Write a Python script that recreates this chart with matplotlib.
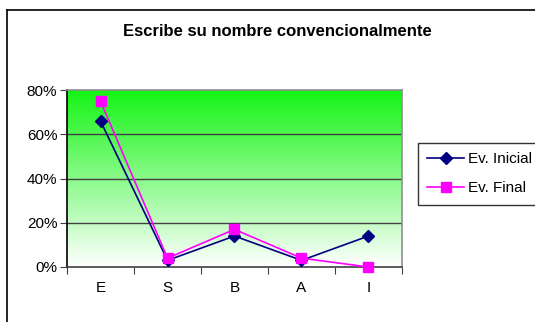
import matplotlib.pyplot as plt
import numpy as np
from matplotlib.lines import Line2D

plt.rcParams['font.family'] = ['Liberation Sans', 'DejaVu Sans']

categories = ['E', 'S', 'B', 'A', 'I']
inicial = [66, 3, 14, 3, 14]
final = [75, 4, 17, 4, 0]
y_ticks = [0, 20, 40, 60, 80]
y_labels = ['0%', '20%', '40%', '60%', '80%']

fig = plt.figure(figsize=(5.35, 3.22), dpi=100)
fig.patch.set_facecolor('white')

# chart border (cut off at right and bottom)
fig.add_artist(Line2D([7 / 535, 1.0], [1 - 10 / 322, 1 - 10 / 322], color='black', lw=1.2))
fig.add_artist(Line2D([7 / 535, 7 / 535], [0.0, 1 - 10 / 322], color='black', lw=1.2))

ax = fig.add_axes([67 / 535, 1 - 267 / 322, 335 / 535, 177 / 322])
x = np.arange(len(categories))
ax.set_xlim(-0.5, len(categories) - 0.5)
ax.set_ylim(0, 80)

# green to white gradient background
grad = np.linspace(1, 0, 256).reshape(-1, 1)
top = np.array([0.08, 0.96, 0.08])
img = np.ones((256, 1, 3)) * (1 - grad[..., None]) + top * grad[..., None]
ax.imshow(img, extent=[-0.5, len(categories) - 0.5, 0, 80], aspect='auto', zorder=0)

for yv in y_ticks[1:-1]:
    ax.axhline(yv, color='#404040', lw=1, zorder=1)

ax.plot(x, inicial, color='#000080', marker='D', markersize=6, lw=1.2,
        label='Ev. Inicial', zorder=3, clip_on=False)
ax.plot(x, final, color='#FF00FF', marker='s', markersize=7, lw=1.2,
        label='Ev. Final', zorder=4, clip_on=False)

ax.set_yticks(y_ticks)
ax.set_yticklabels(y_labels, fontsize=11)
ax.set_xticks(np.arange(-0.5, len(categories)), labels=[''] * (len(categories) + 1))
ax.set_xticks(x, minor=True)
ax.set_xticklabels(categories, minor=True, fontsize=11)
ax.tick_params(axis='x', which='major', length=5, color='#404040')
ax.tick_params(axis='x', which='minor', length=0, pad=10)
ax.tick_params(axis='y', length=5, color='#404040', pad=2)

ax.spines['left'].set_color('black')
ax.spines['bottom'].set_color('#404040')
ax.spines['top'].set_color('#909090')
ax.spines['right'].set_color('#909090')
for s in ax.spines.values():
    s.set_linewidth(1.2)

fig.text(277 / 535, 1 - 32 / 322, 'Escribe su nombre convencionalmente',
         ha='center', va='center', fontsize=12, fontweight='bold')

leg = ax.legend(loc='upper left', bbox_to_anchor=(418 / 535, 1 - 143 / 322),
                bbox_transform=fig.transFigure, fontsize=11, frameon=True,
                fancybox=False, edgecolor='black', handlelength=2.4,
                borderpad=0.6, labelspacing=1.0, handletextpad=0.3, borderaxespad=0)
leg.get_frame().set_linewidth(1.0)

fig.savefig('out.png', dpi=100)
